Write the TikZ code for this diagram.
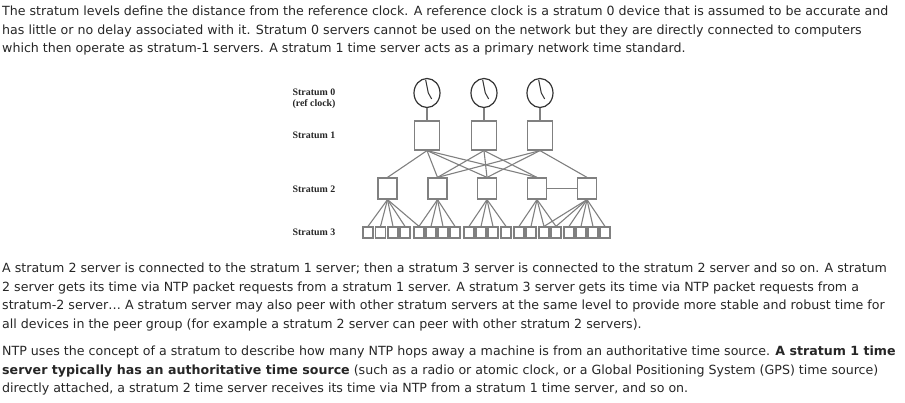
\documentclass[tikz,border=0pt]{standalone}
\usepackage{fontspec}
\usetikzlibrary{shapes.geometric}
\setmainfont{DejaVu Sans}
\newfontfamily\labelfont{Liberation Serif}
\definecolor{boxgray}{gray}{0.5}
\tikzset{
  bodytext/.style={anchor=north west, inner sep=0pt, text=black!85, font=\fontsize{12.62}{18.5}\selectfont, align=left},
  stratlabel/.style={inner sep=0pt, align=center, font=\labelfont\bfseries\fontsize{9.9}{11}\selectfont, text=black!85},
  clockface/.style={ellipse, draw=black!80, line width=1.2pt, minimum width=26pt, minimum height=29pt, inner sep=0pt},
  bigbox/.style={rectangle, draw=boxgray, line width=1.2pt, minimum width=25pt, minimum height=29pt, inner sep=0pt},
  midbox/.style={rectangle, draw=boxgray, line width=1.2pt, minimum width=19pt, minimum height=21pt, inner sep=0pt},
  smallbox/.style={rectangle, draw=boxgray, line width=1.2pt, minimum width=10pt, minimum height=11pt, inner sep=0pt},
  link/.style={draw=boxgray, line width=1.1pt}
}
\begin{document}
\begin{tikzpicture}[x=1pt,y=-1pt]
  \useasboundingbox (0,0) rectangle (905,403);

  % Texte
  \node[bodytext] (introtext) at (2,6) {The stratum levels define the distance from the reference clock. A reference clock is a stratum 0 device that is assumed to be accurate and\\has little or no delay associated with it. Stratum 0 servers cannot be used on the network but they are directly connected to computers\\which then operate as stratum-1 servers. A stratum 1 time server acts as a primary network time standard.};
  \node[bodytext] (midtext) at (2,263) {A stratum 2 server is connected to the stratum 1 server; then a stratum 3 server is connected to the stratum 2 server and so on. A stratum\\2 server gets its time via NTP packet requests from a stratum 1 server. A stratum 3 server gets its time via NTP packet requests from a\\stratum-2 server\dots\ A stratum server may also peer with other stratum servers at the same level to provide more stable and robust time for\\all devices in the peer group (for example a stratum 2 server can peer with other stratum 2 servers).};
  \node[bodytext] (endtext) at (2,346) {NTP uses the concept of a stratum to describe how many NTP hops away a machine is from an authoritative time source. \textbf{A stratum 1 time}\\\textbf{server typically has an authoritative time source} (such as a radio or atomic clock, or a Global Positioning System (GPS) time source)\\directly attached, a stratum 2 time server receives its time via NTP from a stratum 1 time server, and so on.};

  % Niveaux
  \node[stratlabel] (lab0) at (314,98.5) {Stratum 0\\(ref clock)};
  \node[stratlabel] (lab1) at (314,135) {Stratum 1};
  \node[stratlabel] (lab2) at (314,189) {Stratum 2};
  \node[stratlabel] (lab3) at (314,232) {Stratum 3};

  % Horloges et stratum 1
  \foreach \n/\x in {a/427,b/484,c/540} {
    \node[clockface] (clock\n) at (\x,93) {};
    \node[bigbox] (one\n) at (\x,135.5) {};
    \draw[link] (clock\n) -- (one\n);
    \draw[black!80, line width=1pt] (\x-1.3,80) -- (\x+1.3,93) -- (\x+4.7,99);
  }

  % Stratum 2
  \foreach \n/\x in {a/387.5,b/437.5,c/487,d/537,e/587}
    \node[midbox] (two\n) at (\x,188.5) {};
  \draw[link] (twod) -- (twoe);

  % Stratum 3
  \foreach \n/\x in {1/368,2/380.5,3/393,4/405,5/419,6/431,7/443,8/455,9/469,10/481,
                     11/493,12/506,13/519,14/531,15/544,16/556,17/569,18/581,19/593,20/605}
    \node[smallbox] (three\n) at (\x,232.5) {};

  % Liens 1-2
  \foreach \a/\b in {a/a,a/b,a/c,a/d,b/b,b/c,b/d,c/b,c/c,c/e}
    \draw[link] (one\a.south) -- (two\b.north);

  % Liens 2-3
  \foreach \a/\b in {a/1,a/2,a/3,a/4,a/5,b/5,b/6,b/7,b/8,c/9,c/10,c/11,c/12,
                     d/13,d/14,d/15,d/16,e/15,e/16,e/17,e/18,e/19,e/20}
    \draw[link] (two\a.south) -- (three\b.north);
\end{tikzpicture}
\end{document}
